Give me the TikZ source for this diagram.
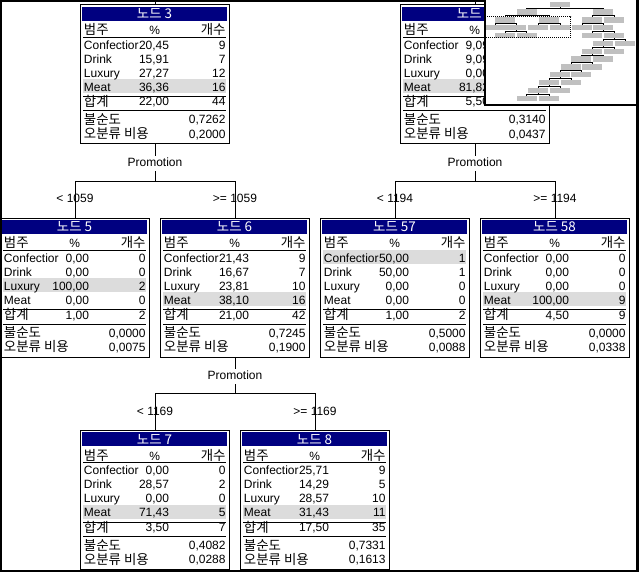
\documentclass[tikz,border=0pt]{standalone}
\usepackage{fontspec}
\setmainfont{Liberation Sans}
\newfontfamily\kr[Scale=1.12]{Noto Sans CJK KR}
\definecolor{titlenavy}{RGB}{0,0,128}
\definecolor{hlgray}{RGB}{220,220,220}
\definecolor{mapgray}{RGB}{192,192,192}
\tikzset{
  tbox/.style={draw, line width=1pt, fill=white, minimum width=149.5pt, minimum height=139pt, inner sep=0pt, anchor=north},
  txt/.style={inner sep=0pt, font=\fontsize{12}{14}\selectfont},
  lt/.style={txt, anchor=base west},
  rt/.style={txt, anchor=base east},
  ct/.style={txt, anchor=base},
  ttl/.style={txt, anchor=base, text=white},
  sepline/.style={line width=1pt},
  conn/.style={line width=1pt},
  splitlbl/.style={txt, anchor=base, fill=white, inner sep=1.5pt, text height=9pt, text depth=3pt},
  mapline/.style={line width=1pt},
  viewrect/.style={line width=1pt, dash pattern=on 1pt off 1pt}
}
\newcommand\dnode[4]{% name, cx, top, title
  \node[tbox] (#1) at (#2,#3) {};
  \begin{scope}[shift={(#1.north west)}]
    \fill[titlenavy] (2,2.2) rectangle (147.5,16.2);
    \node[ttl] (#1-t) at (74.75,14) {\kr 노드 #4};
    \node[lt] (#1-h1) at (4,30.3) {\kr 범주};
    \node[ct] (#1-h2) at (75,30) {\%};
    \node[rt] (#1-h3) at (146,30.3) {\kr 개수};
    \draw[sepline] (3.5,32.8) -- (146.5,32.8);
    \draw[sepline] (3.5,92) -- (146.5,92);
    \draw[sepline] (3.5,106.5) -- (146.5,106.5);
    \node[lt] (#1-s) at (4,102) {\kr 합계};
    \node[lt] (#1-i) at (4,120) {\kr 불순도};
    \node[lt] (#1-m) at (4,134.3) {\kr 오분류 비용};
  \end{scope}}
\newcommand\dhl[2]{% name, row
  \begin{scope}[shift={(#1.north west)}]
    \pgfmathsetmacro\rowbase{44.6+14*(#2-1)}
    \fill[hlgray] (3.5,\rowbase-11.8) rectangle (146.5,\rowbase+2.2);
  \end{scope}}
\newcommand\drow[5]{% name, row, label, pct, count
  \begin{scope}[shift={(#1.north west)}]
    \pgfmathsetmacro\rowbase{44.6+14*(#2-1)}
    \node[lt] (#1-r#2a) at (4,\rowbase) {#3};
    \node[rt] (#1-r#2b) at (89.5,\rowbase) {#4};
    \node[rt] (#1-r#2c) at (146,\rowbase) {#5};
  \end{scope}}
\newcommand\dfoot[5]{% name, pct, count, impurity, cost
  \begin{scope}[shift={(#1.north west)}]
    \node[rt] (#1-sp) at (89.5,101.5) {#2};
    \node[rt] (#1-sc) at (146,101.5) {#3};
    \node[rt] (#1-iv) at (146,119.5) {#4};
    \node[rt] (#1-mv) at (146,133.8) {#5};
  \end{scope}}
\newcommand\drows[9]{% name, then 4 x (pct,count)
  \drow{#1}{1}{Confectior}{#2}{#3}
  \drow{#1}{2}{Drink}{#4}{#5}
  \drow{#1}{3}{Luxury}{#6}{#7}
  \drow{#1}{4}{Meat}{#8}{#9}}
\newcommand\mapbox[2]{\fill[mapgray] ({#1-30},{5+23.5*#2}) rectangle ({#1+30},{5+23.5*#2+16});}
\newcommand\maplink[4]{%
  \draw[mapline] (#1,{5+23.5*(#4-1)+16}) -- (#1,{5+23.5*#4-4});
  \draw[mapline] (#2,{5+23.5*#4}) -- (#2,{5+23.5*#4-4}) -- (#3,{5+23.5*#4-4}) -- (#3,{5+23.5*#4});}
\begin{document}
\begin{tikzpicture}[x=1pt,y=-1pt]
\useasboundingbox (0,0) rectangle (639,572);
\fill[white] (0,0) rectangle (639,572);

% ---- tree nodes ----
\dnode{n3}{155}{4.5}{3}
\dhl{n3}{4}
\drows{n3}{20,45}{9}{15,91}{7}{27,27}{12}{36,36}{16}
\dfoot{n3}{22,00}{44}{0,7262}{0,2000}

\dnode{n4}{475}{4.5}{4}
\dhl{n4}{4}
\drows{n4}{9,09}{1}{9,09}{1}{0,00}{0}{81,82}{9}
\dfoot{n4}{5,50}{11}{0,3140}{0,0437}

\dnode{n5}{75}{217.5}{5}
\dhl{n5}{3}
\drows{n5}{0,00}{0}{0,00}{0}{100,00}{2}{0,00}{0}
\dfoot{n5}{1,00}{2}{0,0000}{0,0075}

\dnode{n6}{235}{217.5}{6}
\dhl{n6}{4}
\drows{n6}{21,43}{9}{16,67}{7}{23,81}{10}{38,10}{16}
\dfoot{n6}{21,00}{42}{0,7245}{0,1900}

\dnode{n57}{395}{217.5}{57}
\dhl{n57}{1}
\drows{n57}{50,00}{1}{50,00}{1}{0,00}{0}{0,00}{0}
\dfoot{n57}{1,00}{2}{0,5000}{0,0088}

\dnode{n58}{555}{217.5}{58}
\dhl{n58}{4}
\drows{n58}{0,00}{0}{0,00}{0}{0,00}{0}{100,00}{9}
\dfoot{n58}{4,50}{9}{0,0000}{0,0338}

\dnode{n7}{155}{430}{7}
\dhl{n7}{4}
\drows{n7}{0,00}{0}{28,57}{2}{0,00}{0}{71,43}{5}
\dfoot{n7}{3,50}{7}{0,4082}{0,0288}

\dnode{n8}{315}{430}{8}
\dhl{n8}{4}
\drows{n8}{25,71}{9}{14,29}{5}{28,57}{10}{31,43}{11}
\dfoot{n8}{17,50}{35}{0,7331}{0,1613}

% ---- connectors ----
\coordinate (up3) at (155,0);
\coordinate (up4) at (475,0);
\draw[conn] (up3) -- (n3.north);
\draw[conn] (up4) -- (n4.north);

\coordinate (b3) at (155,181);
\draw[conn] (n3.south) |- (n5.north |- b3) -- (n5.north);
\draw[conn] (n3.south) |- (n6.north |- b3) -- (n6.north);
\node[splitlbl] (p3) at (155,166.3) {Promotion};
\node[ct] (l5) at (75,202.3) {< 1059};
\node[ct] (l6) at (235,202.3) {>= 1059};

\coordinate (b4) at (475,181);
\draw[conn] (n4.south) |- (n57.north |- b4) -- (n57.north);
\draw[conn] (n4.south) |- (n58.north |- b4) -- (n58.north);
\node[splitlbl] (p4) at (475,166.3) {Promotion};
\node[ct] (l57) at (395,202.3) {< 1194};
\node[ct] (l58) at (555,202.3) {>= 1194};

\coordinate (b6) at (235,393.3);
\draw[conn] (n6.south) |- (n7.north |- b6) -- (n7.north);
\draw[conn] (n6.south) |- (n8.north |- b6) -- (n8.north);
\node[splitlbl] (p6) at (235,379) {Promotion};
\node[ct] (l7) at (155,415) {< 1169};
\node[ct] (l8) at (315,415) {>= 1169};

% ---- window frame ----
\fill[black] (0,0) rectangle (2,572);
\fill[black] (0,0) rectangle (639,2);
\fill[black] (636,0) rectangle (639,572);
\fill[black] (0,569.5) rectangle (639,572);

% ---- overview inset ----
\fill[white] (484,0) rectangle (636,105.5);
\draw[line width=1.5pt] (484.75,0) -- (484.75,104.9) -- (636,104.9);
\begin{scope}[shift={(480,0)},scale=1/3]
  \maplink{240}{140}{370}{1}
  \maplink{140}{76}{208}{2}
  \maplink{370}{336}{402}{2}
  \maplink{76}{46.5}{109}{3}
  \maplink{208}{175}{240}{3}
  \maplink{336}{306}{370}{3}
  \maplink{109}{76}{140}{4}
  \maplink{370}{336}{402}{4}
  \maplink{402}{369}{435}{5}
  \maplink{369}{336}{402}{6}
  \maplink{336}{304}{369}{7}
  \maplink{304}{273}{337}{8}
  \maplink{273}{240}{304}{9}
  \maplink{240}{207}{273}{10}
  \maplink{207}{174}{240}{11}
  \maplink{174}{140}{207}{12}
  \mapbox{240}{0}
  \mapbox{140}{1}\mapbox{370}{1}
  \mapbox{76}{2}\mapbox{208}{2}\mapbox{336}{2}\mapbox{402}{2}
  \mapbox{46.5}{3}\mapbox{109}{3}\mapbox{175}{3}\mapbox{240}{3}\mapbox{306}{3}\mapbox{370}{3}
  \mapbox{76}{4}\mapbox{140}{4}\mapbox{336}{4}\mapbox{402}{4}
  \mapbox{369}{5}\mapbox{435}{5}
  \mapbox{336}{6}\mapbox{402}{6}
  \mapbox{304}{7}\mapbox{369}{7}
  \mapbox{273}{8}\mapbox{337}{8}
  \mapbox{240}{9}\mapbox{304}{9}
  \mapbox{207}{10}\mapbox{273}{10}
  \mapbox{174}{11}\mapbox{240}{11}
  \mapbox{140}{12}\mapbox{207}{12}
  \draw[viewrect] (15,50) rectangle (272,112);
\end{scope}
\end{tikzpicture}
\end{document}
